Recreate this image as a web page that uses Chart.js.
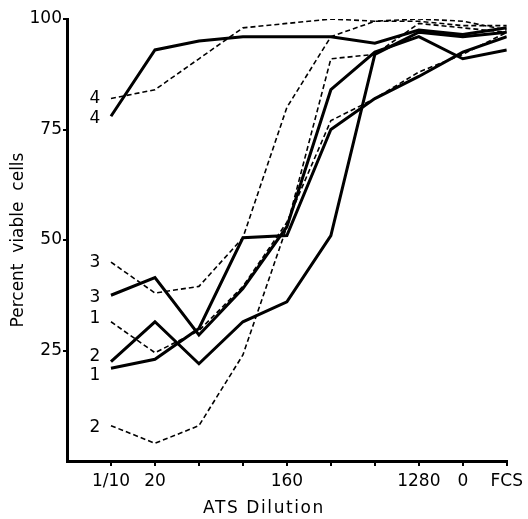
<!DOCTYPE html>
<html>
<head>
<meta charset="utf-8">
<script src="https://cdn.jsdelivr.net/npm/chart.js@4/dist/chart.umd.min.js"></script>
<style>
  html, body { margin: 0; padding: 0; background: #fff; }
  #wrap { width: 528px; height: 519px; }
</style>
</head>
<body>
<div id="wrap"><canvas id="viability"></canvas></div>
<script>
// ATS dilution steps (x positions 0..9), tick labels as printed
const dilutions = ['1/10', '20', '40', '80', '160', '320', '640', '1280', '2560', 'FCS'];
const tickLabels = ['1/10', '20', '', '', '160', '', '', '1280', '0', 'FCS'];
const yTicks = [25, 50, 75, 100];
const xTitle = 'ATS Dilution';

// percent viable cells, solid = thick line, dashed = thin broken line
const solid1 = [21, 23, 30, 50.5, 51, 75, 82, 87, 92.5, 96];
const solid2 = [22.5, 31.5, 22, 31.5, 36, 51, 92, 97, 96, 97];
const solid3 = [37.5, 41.5, 28.5, 39, 53, 84, 92.5, 96, 91, 93];
const solid4 = [78, 93, 95, 96, 96, 96, 94.5, 97.5, 96.5, 98];
const dashed1 = [31.5, 24.5, 29.5, 39.5, 54, 77, 82, 88, 92, 97];
const dashed2 = [8, 4, 8, 24, 53, 91, 92, 99, 98, 97];
const dashed3 = [45, 38, 39.5, 50.5, 80, 96, 99.5, 99.5, 98.5, 98.5];
const dashed4 = [82, 84, 91, 98, 99, 100, 99.5, 100, 99.5, 97.5];

const FONT = '"DejaVu Sans", sans-serif';

function toPoints(vals) {
    return vals.map((v, i) => ({ x: i, y: v }));
}

function makeSet(name, vals, dashed, nudge) {
    return {
        label: name,
        data: toPoints(vals),
        borderColor: '#000',
        borderWidth: dashed ? 1.6 : 3,
        borderDash: dashed ? [5, 3] : [],
        pointRadius: 0,
        tension: 0,
        fill: false,
        labelNudge: nudge
    };
}

// curve numbers left of each first point, plus the x axis title
const curveNames = {
    id: 'curveNames',
    afterDatasetsDraw(chart) {
        const ctx = chart.ctx;
        ctx.save();
        ctx.fillStyle = '#000';
        ctx.font = '17px ' + FONT;
        ctx.textAlign = 'center';
        ctx.textBaseline = 'middle';
        chart.data.datasets.forEach((ds, i) => {
            const p = chart.getDatasetMeta(i).data[0];
            ctx.fillText(ds.label, p.x - 16, p.y + ds.labelNudge);
        });
        // x title sits a bit left of the plot centre in the original
        ctx.letterSpacing = '1.6px';
        ctx.fillText(xTitle, chart.width / 2, chart.height - 10);
        ctx.restore();
    }
};

function initChart() {
    const ctx = document.getElementById('viability').getContext('2d');
    new Chart(ctx, {
        type: 'line',
        data: {
            datasets: [
                makeSet('4', dashed4, true, 0),
                makeSet('4', solid4, false, 2),
                makeSet('3', dashed3, true, 0),
                makeSet('3', solid3, false, 2),
                makeSet('1', dashed1, true, -3),
                makeSet('2', solid2, false, -5),
                makeSet('1', solid1, false, 7),
                makeSet('2', dashed2, true, 2)
            ]
        },
        options: {
            responsive: true,
            maintainAspectRatio: false,
            animation: false,
            layout: { padding: { top: 19, right: 19, left: 0, bottom: 0 } },
            plugins: { legend: { display: false }, tooltip: { enabled: false } },
            scales: {
                x: {
                    type: 'linear',
                    min: -1,
                    max: dilutions.length - 1,
                    afterFit: s => { s.height = 58; },
                    afterBuildTicks: s => { s.ticks = dilutions.map((d, i) => ({ value: i })); },
                    border: { display: true, color: '#000', width: 3 },
                    grid: { drawOnChartArea: false, drawTicks: true, tickLength: 5, color: '#000', lineWidth: 2 },
                    ticks: {
                        color: '#000',
                        font: { family: FONT, size: 17 },
                        padding: 5,
                        maxRotation: 0,
                        autoSkip: false,
                        callback: v => tickLabels[v] || ''
                    }
                },
                y: {
                    min: 0,
                    max: 100,
                    afterFit: s => { s.width = 67; },
                    afterBuildTicks: s => { s.ticks = yTicks.map(v => ({ value: v })); },
                    border: { display: true, color: '#000', width: 3 },
                    grid: { drawOnChartArea: false, drawTicks: true, tickLength: 4, color: '#000', lineWidth: 2 },
                    ticks: {
                        color: '#000',
                        font: { family: FONT, size: 17 },
                        padding: 1
                    },
                    title: {
                        display: true,
                        text: 'Percent  viable  cells',
                        color: '#000',
                        font: { family: FONT, size: 17 },
                        padding: { top: 8, bottom: 0 }
                    }
                }
            }
        },
        plugins: [curveNames]
    });
}

document.addEventListener('DOMContentLoaded', initChart);
</script>
</body>
</html>
